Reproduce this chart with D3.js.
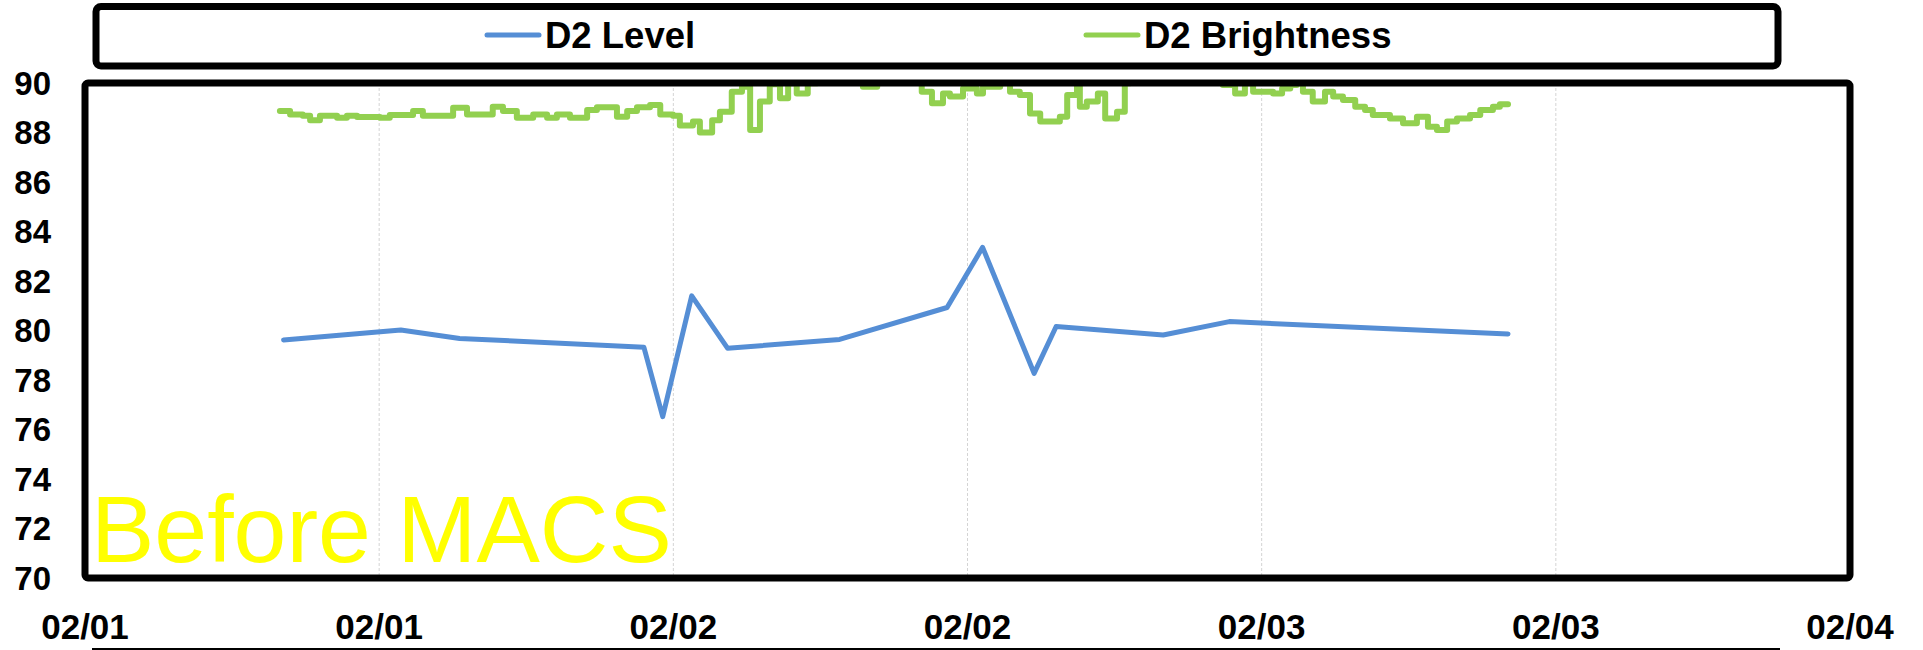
<!DOCTYPE html>
<html>
<head>
<meta charset="utf-8">
<script src="https://cdn.jsdelivr.net/npm/d3@7"></script>
<style>
  body { margin: 0; background: #fff; }
  svg { display: block; font-family: "Liberation Sans", Arial, sans-serif; }
</style>
</head>
<body>
<svg id="chart"></svg>
<script>
// hours after 02/01 00:00
const levelHours = [8.10, 12.89, 15.28, 22.80, 23.57, 24.75, 26.21, 30.79, 35.16, 36.62, 38.71, 39.62, 43.99, 46.69, 58.05];
const levelValues = [79.62, 80.02, 79.68, 79.32, 76.52, 81.40, 79.28, 79.64, 80.93, 83.36, 78.27, 80.16, 79.82, 80.36, 79.86];

const brightHours = [7.95, 8.36, 8.89, 9.18, 9.59, 10.28, 10.69, 11.10, 12.03, 12.44, 13.38, 13.79, 15.01, 15.58, 16.64, 17.05,
  17.62, 18.28, 18.85, 19.25, 19.78, 20.48, 20.89, 21.70, 22.11, 22.52, 23.05, 23.46, 23.99, 24.27, 24.80, 25.09, 25.58,
  25.90, 26.39, 26.80, 27.13, 27.54, 27.94, 28.35, 28.68, 29.04, 29.49, 29.86, 31.74, 32.31, 34.14, 34.55, 35.00, 35.29,
  35.82, 36.39, 36.63, 37.33, 37.73, 38.14, 38.55, 38.96, 39.77, 40.06, 40.47, 40.59, 40.87, 41.32, 41.61, 42.10, 42.42,
  42.63, 46.42, 46.91, 47.32, 47.65, 48.46, 48.83, 49.16, 49.44, 49.69, 50.09, 50.58, 50.91, 51.32, 51.81, 52.21, 52.54,
  53.23, 53.77, 54.34, 54.79, 55.15, 55.56, 55.97, 56.50, 56.91, 57.44, 57.72, 58.05];
const brightValues = [88.87, 88.73, 88.68, 88.50, 88.68, 88.60, 88.68, 88.63, 88.60, 88.71, 88.87, 88.68, 89.00, 88.73, 89.04, 88.87,
  88.60, 88.73, 88.60, 88.73, 88.60, 88.91, 89.02, 88.64, 88.87, 89.02, 89.11, 88.73, 88.68, 88.28, 88.44, 88.00, 88.50,
  88.84, 89.65, 89.85, 88.10, 89.25, 89.95, 89.38, 89.99, 89.58, 89.99, 90.50, 89.85, 90.50, 89.65, 89.18, 89.58, 89.45,
  89.78, 89.58, 89.85, 89.99, 89.65, 89.52, 88.77, 88.44, 88.64, 89.52, 89.99, 89.04, 89.25, 89.58, 88.57, 88.84, 89.99,
  90.50, 89.92, 89.58, 89.99, 89.65, 89.58, 89.78, 89.92, 90.50, 89.65, 89.25, 89.65, 89.45, 89.31, 89.04, 88.91, 88.71,
  88.57, 88.37, 88.64, 88.23, 88.10, 88.44, 88.57, 88.71, 88.91, 89.04, 89.14, 89.14];

const seriesNames = ['D2 Level', 'D2 Brightness'];
const seriesColors = ['#558ED5', '#92D050'];
const yTicks = [70, 72, 74, 76, 78, 80, 82, 84, 86, 88, 90];
const startDate = new Date(2024, 1, 1, 0, 0);
const endDate = new Date(2024, 1, 4, 0, 0);
const noteText = 'Before MACS';

const W = 1923, H = 650;
const plot = { left: 85, right: 1850, top: 83, bottom: 578 };

const svg = d3.select('#chart').attr('width', W).attr('height', H);

const x = d3.scaleTime().domain([startDate, endDate]).range([plot.left, plot.right]);
const y = d3.scaleLinear().domain([70, 90]).range([plot.bottom, plot.top]);
const toDate = h => d3.timeMinute.offset(startDate, Math.round(h * 60));

const levelData = levelHours.map((h, i) => ({ t: toDate(h), v: levelValues[i] }));
const brightData = brightHours.map((h, i) => ({ t: toDate(h), v: brightValues[i] }));

//Vertical gridlines every 12 hours
const xTicks = x.ticks(d3.timeHour.every(12));
svg.append('g')
  .selectAll('line')
  .data(xTicks.slice(1, -1))
  .join('line')
    .attr('x1', d => x(d)).attr('x2', d => x(d))
    .attr('y1', plot.top).attr('y2', plot.bottom)
    .attr('stroke', '#d4d4d4')
    .attr('stroke-width', 1)
    .attr('stroke-dasharray', '3,2');

//Clip series to plot area
svg.append('clipPath').attr('id', 'plotClip')
  .append('rect')
    .attr('x', plot.left).attr('y', plot.top)
    .attr('width', plot.right - plot.left).attr('height', plot.bottom - plot.top);

const series = svg.append('g').attr('clip-path', 'url(#plotClip)');

series.append('path')
  .datum(brightData)
  .attr('fill', 'none')
  .attr('stroke', seriesColors[1])
  .attr('stroke-width', 6)
  .attr('stroke-linejoin', 'round')
  .attr('stroke-linecap', 'round')
  .attr('d', d3.line().curve(d3.curveStepAfter).x(d => x(d.t)).y(d => y(d.v)));

series.append('path')
  .datum(levelData)
  .attr('fill', 'none')
  .attr('stroke', seriesColors[0])
  .attr('stroke-width', 5)
  .attr('stroke-linejoin', 'round')
  .attr('stroke-linecap', 'round')
  .attr('d', d3.line().x(d => x(d.t)).y(d => y(d.v)));

//Yellow note text
svg.append('text')
  .attr('x', 91)
  .attr('y', 562)
  .attr('font-size', 95)
  .attr('fill', '#FFFF00')
  .text(noteText);

//Plot border
svg.append('rect')
  .attr('x', plot.left).attr('y', plot.top)
  .attr('width', plot.right - plot.left).attr('height', plot.bottom - plot.top)
  .attr('rx', 3)
  .attr('fill', 'none')
  .attr('stroke', '#000')
  .attr('stroke-width', 7);

//Y axis labels
svg.append('g')
  .selectAll('text')
  .data(yTicks)
  .join('text')
    .attr('x', 51)
    .attr('y', d => y(d))
    .attr('dy', '0.36em')
    .attr('text-anchor', 'end')
    .attr('font-size', 33)
    .attr('font-weight', 'bold')
    .text(d => d);

//X axis labels
const fmt = d3.timeFormat('%m/%d');
svg.append('g')
  .selectAll('text')
  .data(xTicks)
  .join('text')
    .attr('x', d => x(d))
    .attr('y', 639)
    .attr('text-anchor', 'middle')
    .attr('font-size', 35)
    .attr('font-weight', 'bold')
    .text(d => fmt(d));

//Bottom frame line
svg.append('line')
  .attr('x1', 92).attr('x2', 1780)
  .attr('y1', 649).attr('y2', 649)
  .attr('stroke', '#000')
  .attr('stroke-width', 2);

//Legend
svg.append('rect')
  .attr('x', 96).attr('y', 6.5)
  .attr('width', 1682).attr('height', 59.5)
  .attr('rx', 5)
  .attr('fill', '#fff')
  .attr('stroke', '#000')
  .attr('stroke-width', 7);

const legendX = [487, 1086];
const legend = svg.append('g')
  .selectAll('g')
  .data(seriesNames)
  .join('g')
    .attr('transform', (d, i) => `translate(${legendX[i]}, 35)`);

legend.append('line')
  .attr('x1', 0).attr('x2', 52)
  .attr('stroke', (d, i) => seriesColors[i])
  .attr('stroke-width', 5)
  .attr('stroke-linecap', 'round');

legend.append('text')
  .attr('x', 58)
  .attr('y', 12.5)
  .attr('font-size', 36.5)
  .attr('font-weight', 'bold')
  .text(d => d);
</script>
</body>
</html>
